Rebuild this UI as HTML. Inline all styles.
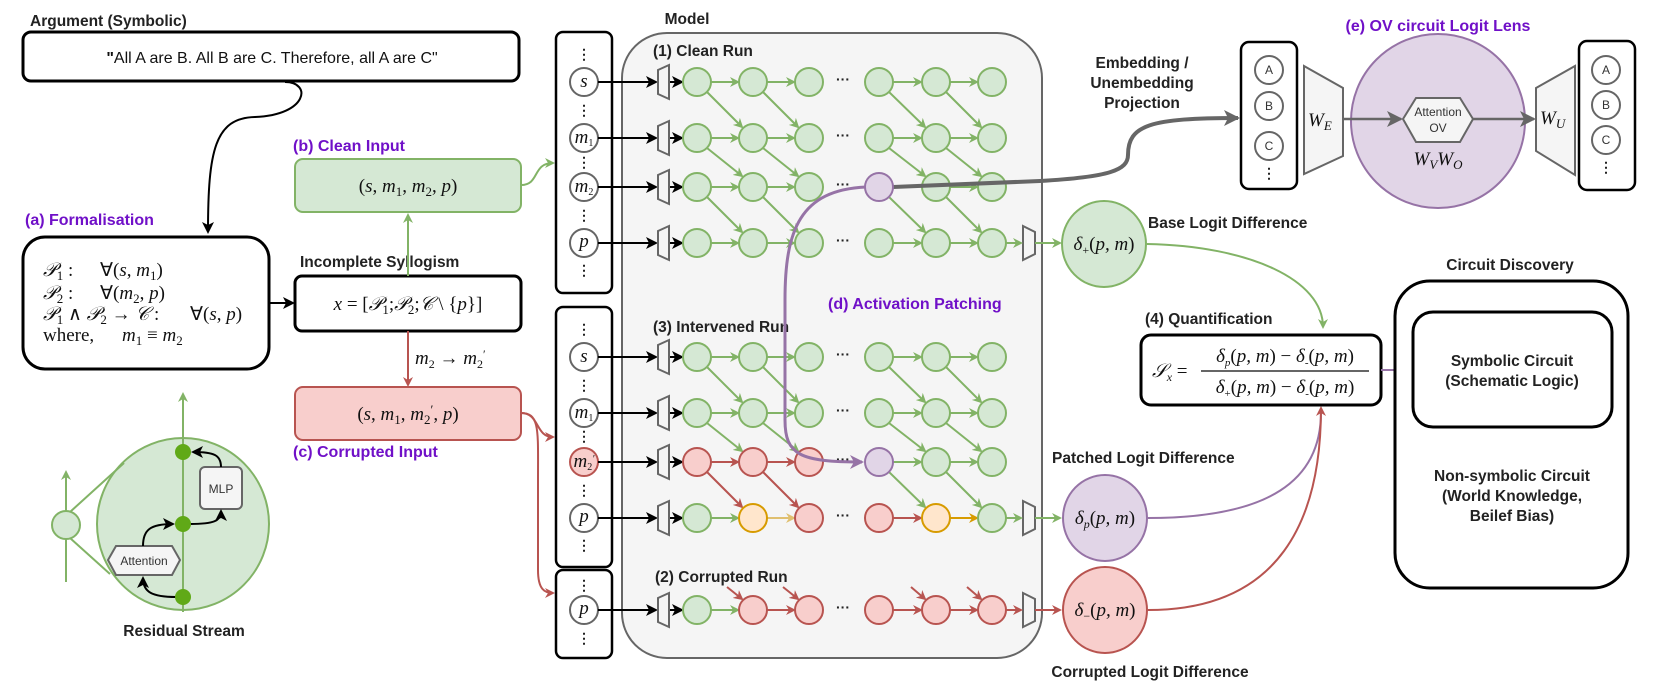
<!DOCTYPE html>
<html><head><meta charset="utf-8"><style>
body{margin:0;background:#fff}
svg{display:block}
.b{font-family:"Liberation Sans",sans-serif;font-weight:bold;font-size:15.5px;fill:#222}
.p{font-family:"Liberation Sans",sans-serif;font-weight:bold;font-size:16px;fill:#7010c8}
.m{font-family:"Liberation Serif",serif;font-style:italic;font-size:19px;fill:#111}
.r{font-family:"Liberation Serif",serif;font-size:19px;fill:#111}
.s{font-family:"Liberation Sans",sans-serif;font-size:12px;fill:#333}
.g{fill:#d5e8d4;stroke:#82b366;stroke-width:2}
.rd{fill:#f8cecc;stroke:#b85450;stroke-width:2}
.pu{fill:#e1d5e7;stroke:#9673a6;stroke-width:2}
.or{fill:#ffe6cc;stroke:#d79b00;stroke-width:2}
.tk{fill:#fff;stroke:#666;stroke-width:2}
.eg{stroke:#82b366;stroke-width:2;fill:none;marker-end:url(#ag)}
.er{stroke:#b85450;stroke-width:2;fill:none;marker-end:url(#ar)}
.eo{stroke:#d79b00;stroke-width:2;fill:none;marker-end:url(#ao)}
.ey{stroke:#e0c070;stroke-width:2;fill:none;marker-end:url(#ay)}
.ek{stroke:#000;stroke-width:2;fill:none;marker-end:url(#ak)}
.tr{fill:#f5f5f5;stroke:#666;stroke-width:2}
.dots{font-family:"Liberation Sans",sans-serif;font-weight:bold;font-size:14px;fill:#222}
</style></head><body>
<svg width="1661" height="694" viewBox="0 0 1661 694" xmlns="http://www.w3.org/2000/svg">
<defs>
<marker id="ag" markerWidth="10" markerHeight="10" refX="8" refY="5" orient="auto" markerUnits="userSpaceOnUse"><path d="M0,0 L10,5 L0,10 L3,5z" fill="#82b366"/></marker>
<marker id="ar" markerWidth="10" markerHeight="10" refX="8" refY="5" orient="auto" markerUnits="userSpaceOnUse"><path d="M0,0 L10,5 L0,10 L3,5z" fill="#b85450"/></marker>
<marker id="ao" markerWidth="10" markerHeight="10" refX="8" refY="5" orient="auto" markerUnits="userSpaceOnUse"><path d="M0,0 L10,5 L0,10 L3,5z" fill="#d79b00"/></marker>
<marker id="ay" markerWidth="10" markerHeight="10" refX="8" refY="5" orient="auto" markerUnits="userSpaceOnUse"><path d="M0,0 L10,5 L0,10 L3,5z" fill="#e0c070"/></marker>
<marker id="ak" markerWidth="12" markerHeight="12" refX="10" refY="6" orient="auto" markerUnits="userSpaceOnUse"><path d="M0,0 L12,6 L0,12 L3,6z" fill="#000"/></marker>
<marker id="ap" markerWidth="14" markerHeight="14" refX="12" refY="7" orient="auto" markerUnits="userSpaceOnUse"><path d="M0,0 L14,7 L0,14 L4,7z" fill="#9673a6"/></marker>
<marker id="ax" markerWidth="16" markerHeight="16" refX="14" refY="8" orient="auto" markerUnits="userSpaceOnUse"><path d="M0,0 L16,8 L0,16 L4,8z" fill="#666"/></marker>
</defs>

<!-- Argument -->
<text class="b" x="30" y="26">Argument (Symbolic)</text>
<rect x="23" y="32" width="496" height="49" rx="8" fill="#fff" stroke="#000" stroke-width="3"/>
<text x="272" y="63" text-anchor="middle" font-family="Liberation Sans, sans-serif" font-size="16" fill="#111"><tspan font-weight="bold">"</tspan>All A are B. All B are C. Therefore, all A are C"</text>
<path d="M285,82 C312,82 308,115 255,117 C215,118 208,150 208,232" stroke="#000" stroke-width="2" fill="none" marker-end="url(#ak)"/>

<!-- Formalisation -->
<text class="p" x="25" y="225">(a) Formalisation</text>
<rect x="23" y="237" width="246" height="132" rx="22" fill="#fff" stroke="#000" stroke-width="3"/>
<text class="m" x="43" y="276">𝒫<tspan font-style="normal" font-size="13" dy="4">1</tspan><tspan dy="-4" font-style="normal"> :</tspan></text>
<text class="r" x="100" y="276">∀(<tspan font-style="italic">s</tspan>, <tspan font-style="italic">m</tspan><tspan font-size="13" dy="4">1</tspan><tspan dy="-4">)</tspan></text>
<text class="m" x="43" y="299">𝒫<tspan font-style="normal" font-size="13" dy="4">2</tspan><tspan dy="-4" font-style="normal"> :</tspan></text>
<text class="r" x="100" y="299">∀(<tspan font-style="italic">m</tspan><tspan font-size="13" dy="4">2</tspan><tspan dy="-4">, </tspan><tspan font-style="italic">p</tspan>)</text>
<text class="r" x="43" y="320"><tspan font-style="italic">𝒫</tspan><tspan font-size="13" dy="4">1</tspan><tspan dy="-4"> ∧ </tspan><tspan font-style="italic">𝒫</tspan><tspan font-size="13" dy="4">2</tspan><tspan dy="-4"> → </tspan><tspan font-style="italic">𝒞</tspan> :</text>
<text class="r" x="190" y="320">∀(<tspan font-style="italic">s</tspan>, <tspan font-style="italic">p</tspan>)</text>
<text class="r" x="43" y="341">where,</text>
<text class="r" x="122" y="341"><tspan font-style="italic">m</tspan><tspan font-size="13" dy="4">1</tspan><tspan dy="-4"> ≡ </tspan><tspan font-style="italic">m</tspan><tspan font-size="13" dy="4">2</tspan></text>
<path d="M270,303 L293,303" class="ek"/>

<!-- Incomplete syllogism -->
<text class="b" x="300" y="267">Incomplete Syllogism</text>
<rect x="295" y="276" width="226" height="55" rx="7" fill="#fff" stroke="#000" stroke-width="3"/>
<text class="r" x="408" y="310" text-anchor="middle"><tspan font-style="italic">x</tspan> = [<tspan font-style="italic">𝒫</tspan><tspan font-size="13" dy="4">1</tspan><tspan dy="-4">;</tspan><tspan font-style="italic">𝒫</tspan><tspan font-size="13" dy="4">2</tspan><tspan dy="-4">;</tspan><tspan font-style="italic">𝒞</tspan> \ {<tspan font-style="italic">p</tspan>}]</text>
<path d="M408,276 L408,215" class="eg"/>
<path d="M408,331 L408,385" class="er"/>
<text class="m" x="415" y="364" font-size="17">m<tspan font-style="normal" font-size="12" dy="4">2</tspan><tspan dy="-4" font-style="normal"> → </tspan>m<tspan font-style="normal" font-size="12" dy="4">2</tspan><tspan font-style="normal" font-size="12" dy="-10">′</tspan></text>

<!-- Clean / corrupted input -->
<text class="p" x="293" y="151">(b) Clean Input</text>
<rect x="295" y="159" width="226" height="53" rx="8" class="g" stroke-width="3"/>
<text class="r" x="408" y="192" text-anchor="middle">(<tspan font-style="italic">s</tspan>, <tspan font-style="italic">m</tspan><tspan font-size="13" dy="4">1</tspan><tspan dy="-4">, </tspan><tspan font-style="italic">m</tspan><tspan font-size="13" dy="4">2</tspan><tspan dy="-4">, </tspan><tspan font-style="italic">p</tspan>)</text>
<rect x="295" y="387" width="226" height="53" rx="8" class="rd" stroke-width="3"/>
<text class="r" x="408" y="420" text-anchor="middle">(<tspan font-style="italic">s</tspan>, <tspan font-style="italic">m</tspan><tspan font-size="13" dy="4">1</tspan><tspan dy="-4">, </tspan><tspan font-style="italic">m</tspan><tspan font-size="13" dy="4">2</tspan><tspan font-size="13" dy="-10">′</tspan><tspan dy="6">, </tspan><tspan font-style="italic">p</tspan>)</text>
<text class="p" x="293" y="457">(c) Corrupted Input</text>
<path d="M521,185 C540,185 532,163 553,163" class="eg"/>
<path d="M521,413 C540,413 535,437 553,437" class="er"/>
<path d="M521,413 C540,413 538,430 538,480 L538,570 C538,590 545,593 553,593" class="er"/>

<!-- Residual stream -->
<circle cx="183" cy="524" r="86" class="g"/>
<line x1="70" y1="512" x2="124" y2="463" stroke="#82b366" stroke-width="2"/>
<line x1="70" y1="538" x2="110" y2="574" stroke="#82b366" stroke-width="2"/>
<path d="M66,582 L66,472" class="eg"/>
<circle cx="66" cy="525" r="14" class="g"/>
<path d="M183,612 L183,394" class="eg"/>
<rect x="200" y="467" width="42" height="42" rx="5" fill="#f5f5f5" stroke="#666" stroke-width="2"/>
<text x="221" y="493" text-anchor="middle" class="s">MLP</text>
<polygon points="108,560 116,546 172,546 180,560 172,575 116,575" fill="#f5f5f5" stroke="#666" stroke-width="2"/>
<text x="144" y="565" text-anchor="middle" class="s">Attention</text>
<path d="M176,597 C152,597 143,592 143,578" class="ek"/>
<path d="M143,546 C143,530 150,524 173,524" class="ek"/>
<path d="M190,524 C214,524 221,521 221,511" class="ek"/>
<path d="M221,467 C221,455 214,452 193,452" class="ek"/>
<circle cx="183" cy="452" r="8" fill="#60a917"/>
<circle cx="183" cy="524" r="8" fill="#60a917"/>
<circle cx="183" cy="597" r="8" fill="#60a917"/>
<text class="b" x="184" y="636" text-anchor="middle">Residual Stream</text>

<!-- Model -->
<text class="b" x="687" y="24" text-anchor="middle">Model</text>
<rect x="622" y="33" width="420" height="625" rx="45" fill="#f5f5f5" stroke="#666" stroke-width="2"/>
<text class="b" x="653" y="56">(1) Clean Run</text>
<text class="b" x="653" y="332">(3) Intervened Run</text>
<text class="b" x="655" y="582">(2) Corrupted Run</text>
<text class="p" x="828" y="309">(d) Activation Patching</text>

<!-- token boxes -->
<rect x="556" y="32" width="56" height="261" rx="7" fill="#fff" stroke="#000" stroke-width="2.5"/>
<rect x="556" y="307" width="56" height="260" rx="7" fill="#fff" stroke="#000" stroke-width="2.5"/>
<rect x="556" y="570" width="56" height="88" rx="7" fill="#fff" stroke="#000" stroke-width="2.5"/>
<g class="dots" text-anchor="middle">
<text x="584" y="59">⋮</text><text x="584" y="115">⋮</text><text x="584" y="167">⋮</text><text x="584" y="220">⋮</text><text x="584" y="275">⋮</text>
<text x="584" y="334">⋮</text><text x="584" y="390">⋮</text><text x="584" y="441">⋮</text><text x="584" y="495">⋮</text><text x="584" y="550">⋮</text>
<text x="584" y="590">⋮</text><text x="584" y="643">⋮</text>
</g>
<g>
<circle cx="584" cy="82" r="14" class="tk"/><circle cx="584" cy="138" r="14" class="tk"/><circle cx="584" cy="187" r="14" class="tk"/><circle cx="584" cy="243" r="14" class="tk"/>
<circle cx="584" cy="357" r="14" class="tk"/><circle cx="584" cy="413" r="14" class="tk"/><circle cx="584" cy="462" r="14" class="rd"/><circle cx="584" cy="518" r="14" class="tk"/>
<circle cx="584" cy="610" r="14" class="tk"/>
</g>
<g class="m" font-size="15" text-anchor="middle">
<text x="584" y="87">s</text><text x="584" y="143">m<tspan font-size="10" font-style="normal" dy="3">1</tspan></text><text x="584" y="192">m<tspan font-size="10" font-style="normal" dy="3">2</tspan></text><text x="584" y="247">p</text>
<text x="584" y="362">s</text><text x="584" y="418">m<tspan font-size="10" font-style="normal" dy="3">1</tspan></text><text x="584" y="467">m<tspan font-size="10" font-style="normal" dy="3">2</tspan><tspan font-size="10" dy="-8">′</tspan></text><text x="584" y="522">p</text>
<text x="584" y="614">p</text>
</g>

<!-- token -> trapezoid arrows -->
<g>
<path d="M598,82 L656,82" class="ek"/><path d="M598,138 L656,138" class="ek"/><path d="M598,187 L656,187" class="ek"/><path d="M598,243 L656,243" class="ek"/>
<path d="M598,357 L656,357" class="ek"/><path d="M598,413 L656,413" class="ek"/><path d="M598,462 L656,462" class="ek"/><path d="M598,518 L656,518" class="ek"/>
<path d="M598,610 L656,610" class="ek"/>
<path d="M669,82 L682,82" class="ek"/><path d="M669,138 L682,138" class="ek"/><path d="M669,187 L682,187" class="ek"/><path d="M669,243 L682,243" class="ek"/>
<path d="M669,357 L682,357" class="ek"/><path d="M669,413 L682,413" class="ek"/><path d="M669,462 L682,462" class="ek"/><path d="M669,518 L682,518" class="ek"/>
<path d="M669,610 L682,610" class="ek"/>
</g>
<g class="tr">
<polygon points="658,70 669,65 669,99 658,94"/><polygon points="658,126 669,121 669,155 658,150"/><polygon points="658,175 669,170 669,204 658,199"/><polygon points="658,231 669,226 669,260 658,255"/>
<polygon points="658,345 669,340 669,374 658,369"/><polygon points="658,401 669,396 669,430 658,425"/><polygon points="658,450 669,445 669,479 658,474"/><polygon points="658,506 669,501 669,535 658,530"/>
<polygon points="658,598 669,593 669,627 658,622"/>
<polygon points="1023,226 1035,232 1035,254 1023,260"/><polygon points="1023,501 1035,507 1035,529 1023,535"/><polygon points="1023,593 1035,599 1035,621 1023,627"/>
</g>

<!-- CLEAN RUN edges -->
<g>
<path d="M711,82 L738,82" class="eg"/><path d="M767,82 L794,82" class="eg"/><path d="M893,82 L921,82" class="eg"/><path d="M950,82 L977,82" class="eg"/>
<path d="M711,138 L738,138" class="eg"/><path d="M767,138 L794,138" class="eg"/><path d="M893,138 L921,138" class="eg"/><path d="M950,138 L977,138" class="eg"/>
<path d="M711,187 L738,187" class="eg"/><path d="M767,187 L794,187" class="eg"/><path d="M950,187 L977,187" class="eg"/>
<path d="M711,243 L738,243" class="eg"/><path d="M767,243 L794,243" class="eg"/><path d="M893,243 L921,243" class="eg"/><path d="M950,243 L977,243" class="eg"/>
<!-- diagonals -->
<path d="M707,92 L742,127" class="eg"/><path d="M763,92 L798,127" class="eg"/><path d="M889,92 L925,127" class="eg"/><path d="M946,92 L981,127" class="eg"/>
<path d="M707,148 L742,176" class="eg"/><path d="M763,148 L798,176" class="eg"/><path d="M889,148 L925,176" class="eg"/><path d="M946,148 L981,176" class="eg"/>
<path d="M707,197 L742,232" class="eg"/><path d="M763,197 L798,232" class="eg"/><path d="M889,197 L925,232" class="eg"/><path d="M946,197 L981,232" class="eg"/>
<path d="M1006,243 L1021,243" class="eg"/><path d="M1035,243 L1060,243" class="eg"/>
</g>
<!-- INTERVENED edges -->
<g>
<path d="M711,357 L738,357" class="eg"/><path d="M767,357 L794,357" class="eg"/><path d="M893,357 L921,357" class="eg"/><path d="M950,357 L977,357" class="eg"/>
<path d="M711,413 L738,413" class="eg"/><path d="M767,413 L794,413" class="eg"/><path d="M893,413 L921,413" class="eg"/><path d="M950,413 L977,413" class="eg"/>
<path d="M711,462 L738,462" class="er"/><path d="M767,462 L794,462" class="er"/><path d="M893,462 L921,462" class="eg"/><path d="M950,462 L977,462" class="eg"/>
<path d="M711,518 L738,518" class="eg"/><path d="M767,518 L794,518" class="ey"/><path d="M893,518 L921,518" class="er"/><path d="M950,518 L977,518" class="eo"/>
<path d="M707,367 L742,402" class="eg"/><path d="M763,367 L798,402" class="eg"/><path d="M889,367 L925,402" class="eg"/><path d="M946,367 L981,402" class="eg"/>
<path d="M707,423 L742,451" class="eg"/><path d="M763,423 L798,451" class="eg"/><path d="M889,423 L925,451" class="eg"/><path d="M946,423 L981,451" class="eg"/>
<path d="M707,472 L742,507" class="er"/><path d="M763,472 L798,507" class="er"/><path d="M889,472 L925,507" class="eg"/><path d="M946,472 L981,507" class="eg"/>
<path d="M1006,518 L1021,518" class="eg"/><path d="M1035,518 L1060,518" class="eg"/>
</g>
<!-- CORRUPTED edges -->
<g>
<path d="M711,610 L738,610" class="eg"/><path d="M767,610 L794,610" class="er"/><path d="M893,610 L921,610" class="er"/><path d="M950,610 L977,610" class="er"/>
<path d="M727,587 L742,599" class="er"/><path d="M783,587 L798,599" class="er"/><path d="M911,587 L925,599" class="er"/><path d="M967,587 L981,599" class="er"/>
<path d="M1006,610 L1021,610" class="er"/><path d="M1035,610 L1060,610" class="er"/>
</g>

<!-- nodes -->
<g>
<circle cx="697" cy="82" r="14" class="g"/><circle cx="753" cy="82" r="14" class="g"/><circle cx="809" cy="82" r="14" class="g"/><circle cx="879" cy="82" r="14" class="g"/><circle cx="936" cy="82" r="14" class="g"/><circle cx="992" cy="82" r="14" class="g"/>
<circle cx="697" cy="138" r="14" class="g"/><circle cx="753" cy="138" r="14" class="g"/><circle cx="809" cy="138" r="14" class="g"/><circle cx="879" cy="138" r="14" class="g"/><circle cx="936" cy="138" r="14" class="g"/><circle cx="992" cy="138" r="14" class="g"/>
<circle cx="697" cy="187" r="14" class="g"/><circle cx="753" cy="187" r="14" class="g"/><circle cx="809" cy="187" r="14" class="g"/><circle cx="936" cy="187" r="14" class="g"/><circle cx="992" cy="187" r="14" class="g"/>
<circle cx="697" cy="243" r="14" class="g"/><circle cx="753" cy="243" r="14" class="g"/><circle cx="809" cy="243" r="14" class="g"/><circle cx="879" cy="243" r="14" class="g"/><circle cx="936" cy="243" r="14" class="g"/><circle cx="992" cy="243" r="14" class="g"/>

<circle cx="697" cy="357" r="14" class="g"/><circle cx="753" cy="357" r="14" class="g"/><circle cx="809" cy="357" r="14" class="g"/><circle cx="879" cy="357" r="14" class="g"/><circle cx="936" cy="357" r="14" class="g"/><circle cx="992" cy="357" r="14" class="g"/>
<circle cx="697" cy="413" r="14" class="g"/><circle cx="753" cy="413" r="14" class="g"/><circle cx="809" cy="413" r="14" class="g"/><circle cx="879" cy="413" r="14" class="g"/><circle cx="936" cy="413" r="14" class="g"/><circle cx="992" cy="413" r="14" class="g"/>
<circle cx="697" cy="462" r="14" class="rd"/><circle cx="753" cy="462" r="14" class="rd"/><circle cx="809" cy="462" r="14" class="rd"/><circle cx="936" cy="462" r="14" class="g"/><circle cx="992" cy="462" r="14" class="g"/>
<circle cx="697" cy="518" r="14" class="g"/><circle cx="753" cy="518" r="14" class="or"/><circle cx="809" cy="518" r="14" class="rd"/><circle cx="879" cy="518" r="14" class="rd"/><circle cx="936" cy="518" r="14" class="or"/><circle cx="992" cy="518" r="14" class="g"/>

<circle cx="697" cy="610" r="14" class="g"/><circle cx="753" cy="610" r="14" class="rd"/><circle cx="809" cy="610" r="14" class="rd"/><circle cx="879" cy="610" r="14" class="rd"/><circle cx="936" cy="610" r="14" class="rd"/><circle cx="992" cy="610" r="14" class="rd"/>
</g>
<g class="dots" font-size="12" text-anchor="middle">
<text x="843" y="84">···</text><text x="843" y="140">···</text><text x="843" y="189">···</text><text x="843" y="245">···</text>
<text x="843" y="359">···</text><text x="843" y="415">···</text><text x="843" y="464">···</text><text x="843" y="520">···</text><text x="843" y="612">···</text>
</g>

<!-- patching curve and embedding projection -->
<path d="M866,187 C800,190 785,230 785,300 L785,420 C785,455 800,462 862,462" stroke="#9673a6" stroke-width="3" fill="none" marker-end="url(#ap)"/>
<path d="M893,187 L1040,181 C1110,177 1128,170 1128,155 C1128,125 1150,118 1238,118" stroke="#666" stroke-width="4" fill="none" marker-end="url(#ax)"/>
<circle cx="879" cy="187" r="14" class="pu"/>
<circle cx="879" cy="462" r="14" class="pu"/>

<text class="b" text-anchor="middle" x="1142" y="68">Embedding /</text>
<text class="b" text-anchor="middle" x="1142" y="88">Unembedding</text>
<text class="b" text-anchor="middle" x="1142" y="108">Projection</text>

<!-- OV circuit -->
<text class="p" x="1438" y="31" text-anchor="middle">(e) OV circuit Logit Lens</text>
<rect x="1241" y="42" width="56" height="147" rx="8" fill="#fff" stroke="#000" stroke-width="2.5"/>
<rect x="1579" y="41" width="56" height="149" rx="8" fill="#fff" stroke="#000" stroke-width="2.5"/>
<g font-family="Liberation Sans, sans-serif" font-size="12" fill="#333" text-anchor="middle">
<circle cx="1269" cy="70" r="14" class="tk"/><text x="1269" y="74">A</text>
<circle cx="1269" cy="106" r="14" class="tk"/><text x="1269" y="110">B</text>
<circle cx="1269" cy="146" r="14" class="tk"/><text x="1269" y="150">C</text>
<circle cx="1606" cy="70" r="14" class="tk"/><text x="1606" y="74">A</text>
<circle cx="1606" cy="105" r="14" class="tk"/><text x="1606" y="109">B</text>
<circle cx="1606" cy="140" r="14" class="tk"/><text x="1606" y="144">C</text>
</g>
<text class="dots" x="1269" y="178" text-anchor="middle">⋮</text>
<text class="dots" x="1606" y="172" text-anchor="middle">⋮</text>
<circle cx="1438" cy="121" r="87" class="pu"/>
<polygon points="1304,66 1343,88 1343,156 1304,174" class="tr"/>
<polygon points="1536,88 1575,66 1575,175 1536,151" class="tr"/>
<text class="m" x="1308" y="126" font-size="20">W<tspan font-size="13" dy="4">E</tspan></text>
<text class="m" x="1540" y="124" font-size="20">W<tspan font-size="13" dy="4">U</tspan></text>
<path d="M1343,119 L1401,119" stroke="#666" stroke-width="2.5" fill="none" marker-end="url(#ax)"/>
<path d="M1473,119 L1534,119" stroke="#666" stroke-width="2.5" fill="none" marker-end="url(#ax)"/>
<polygon points="1403,119 1416,98 1460,98 1473,119 1460,142 1416,142" fill="#f5f5f5" stroke="#666" stroke-width="2"/>
<text x="1438" y="116" text-anchor="middle" class="s">Attention</text>
<text x="1438" y="132" text-anchor="middle" class="s">OV</text>
<text class="m" x="1438" y="165" text-anchor="middle" font-size="20">W<tspan font-size="13" dy="4">V</tspan><tspan dy="-4">W</tspan><tspan font-size="13" dy="4">O</tspan></text>

<!-- logit differences -->
<text class="b" x="1148" y="228">Base Logit Difference</text>
<ellipse cx="1104" cy="244" rx="42" ry="43" class="g" stroke-width="3"/>
<text class="m" x="1104" y="250" text-anchor="middle" font-size="18">δ<tspan font-style="normal" font-size="12" dy="4">+</tspan><tspan dy="-4" font-style="normal">(</tspan>p, m<tspan font-style="normal">)</tspan></text>
<text class="b" x="1052" y="463">Patched Logit Difference</text>
<ellipse cx="1105" cy="518" rx="42" ry="43" class="pu" stroke-width="3"/>
<text class="m" x="1105" y="524" text-anchor="middle" font-size="18">δ<tspan font-size="12" dy="4">p</tspan><tspan dy="-4" font-style="normal">(</tspan>p, m<tspan font-style="normal">)</tspan></text>
<ellipse cx="1105" cy="610" rx="42" ry="43" class="rd" stroke-width="3"/>
<text class="m" x="1105" y="616" text-anchor="middle" font-size="18">δ<tspan font-style="normal" font-size="12" dy="4">−</tspan><tspan dy="-4" font-style="normal">(</tspan>p, m<tspan font-style="normal">)</tspan></text>
<text class="b" x="1150" y="677" text-anchor="middle">Corrupted Logit Difference</text>

<path d="M1147,244 C1250,246 1323,280 1323,327" class="eg"/>
<path d="M1148,518 C1270,518 1321,480 1321,412" stroke="#9673a6" stroke-width="2" fill="none"/>
<path d="M1148,610 C1280,610 1321,520 1321,408" class="er"/>

<!-- Quantification -->
<text class="b" x="1145" y="324">(4) Quantification</text>
<rect x="1141" y="335" width="240" height="70" rx="10" fill="#fff" stroke="#000" stroke-width="3"/>
<text class="m" x="1152" y="377" font-size="20">𝒮<tspan font-size="12" dy="4">x</tspan><tspan dy="-4" font-style="normal"> =</tspan></text>
<line x1="1201" y1="371" x2="1369" y2="371" stroke="#333" stroke-width="1.5"/>
<text class="m" x="1285" y="362" text-anchor="middle" font-size="17">δ<tspan font-size="11" dy="4">p</tspan><tspan dy="-4" font-style="normal">(</tspan>p, m<tspan font-style="normal">) − </tspan>δ<tspan font-style="normal" font-size="11" dy="4">-</tspan><tspan dy="-4" font-style="normal">(</tspan>p, m<tspan font-style="normal">)</tspan></text>
<text class="m" x="1285" y="393" text-anchor="middle" font-size="17">δ<tspan font-style="normal" font-size="11" dy="4">+</tspan><tspan dy="-4" font-style="normal">(</tspan>p, m<tspan font-style="normal">) − </tspan>δ<tspan font-style="normal" font-size="11" dy="4">-</tspan><tspan dy="-4" font-style="normal">(</tspan>p, m<tspan font-style="normal">)</tspan></text>
<path d="M1381,370 L1411,370" stroke="#9673a6" stroke-width="2" fill="none" marker-end="url(#ap)"/>

<!-- Circuit discovery -->
<text class="b" x="1510" y="270" text-anchor="middle">Circuit Discovery</text>
<rect x="1395" y="281" width="233" height="307" rx="35" fill="#fff" stroke="#000" stroke-width="3"/>
<rect x="1413" y="312" width="199" height="115" rx="20" fill="#fff" stroke="#000" stroke-width="3"/>
<text class="b" x="1512" y="366" text-anchor="middle">Symbolic Circuit</text>
<text class="b" x="1512" y="386" text-anchor="middle">(Schematic Logic)</text>
<text class="b" x="1512" y="481" text-anchor="middle">Non-symbolic Circuit</text>
<text class="b" x="1512" y="501" text-anchor="middle">(World Knowledge,</text>
<text class="b" x="1512" y="521" text-anchor="middle">Beilef Bias)</text>
</svg>
</body></html>
